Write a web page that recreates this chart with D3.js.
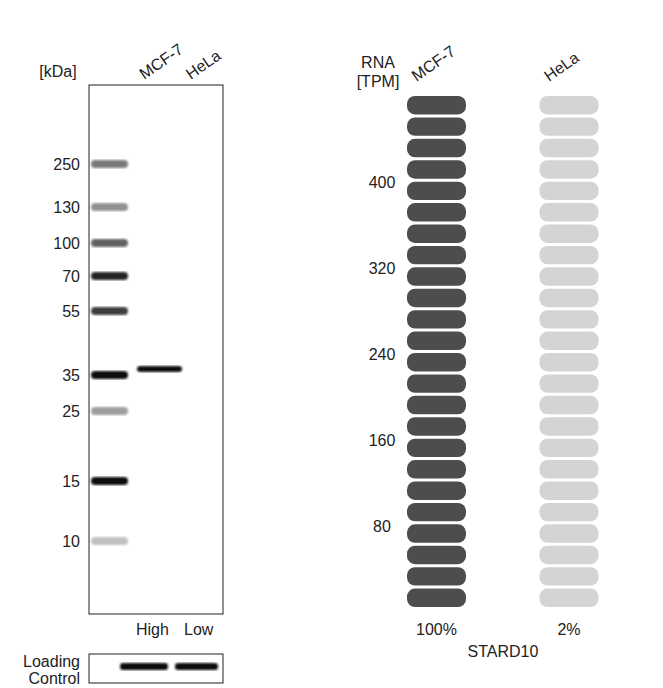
<!DOCTYPE html>
<html><head><meta charset="utf-8">
<script src="https://cdn.jsdelivr.net/npm/d3@7"></script>
<style>body{margin:0;background:#fff}text{font-family:Arial,"Liberation Sans",sans-serif;fill:#222}</style>
</head><body><svg id="c" width="663" height="688"></svg>
<script>
// blot data
var markerKda = [250, 130, 100, 70, 55, 35, 25, 15, 10];
var markerY = [164, 207, 243, 276, 311, 375, 411, 481, 541];
var markerDark = [0.55, 0.45, 0.65, 0.9, 0.8, 1, 0.4, 1, 0.25];
var lanes = ["MCF-7", "HeLa"];
var laneLevel = ["High", "Low"];
var sampleBandKda = [37];
// rna data
var rnaTicks = [80, 160, 240, 320, 400];
var rnaTPM = [480, 9];
var rnaPct = ["100%", "2%"];
var gene = "STARD10";
var tileCount = 24;

var svg = d3.select("#c");
svg.append("defs").append("filter").attr("id", "blur").append("feGaussianBlur").attr("stdDeviation", 1.3);

// ---- blot ----
var bx0 = 89, bx1 = 223, by0 = 85, by1 = 614;
svg.append("rect").attr("x", bx0).attr("y", by0).attr("width", bx1 - bx0).attr("height", by1 - by0)
  .attr("fill", "#fff").attr("stroke", "#222");
var kda = d3.scaleLog().domain(markerKda).range(markerY);
var lane = d3.scaleBand().domain(lanes).range([128, 223]).padding(0.05);

svg.append("text").attr("x", 58).attr("y", 77).attr("text-anchor", "middle").attr("font-size", 16).text("[kDa]");
markerKda.forEach(function (k, i) {
  svg.append("text").attr("x", 80).attr("y", kda(k) + 6).attr("text-anchor", "end").attr("font-size", 16).text(k);
  svg.append("rect").attr("x", 91).attr("y", kda(k) - 4).attr("width", 37).attr("height", 8).attr("rx", 4)
    .attr("fill", "#111").attr("opacity", markerDark[i]).attr("filter", "url(#blur)");
});
sampleBandKda.forEach(function (k) {
  svg.append("rect").attr("x", 137).attr("y", 366).attr("width", 45).attr("height", 6).attr("rx", 3)
    .attr("fill", "#111").attr("filter", "url(#blur)");
});
lanes.forEach(function (l, i) {
  var cx = lane(l) + lane.bandwidth() / 2;
  svg.append("text").attr("transform", "translate(" + (cx - 8) + ",80) rotate(-35)").attr("font-size", 16).text(l);
  svg.append("text").attr("x", cx).attr("y", 635).attr("text-anchor", "middle").attr("font-size", 16).text(laneLevel[i]);
});
// loading control
svg.append("rect").attr("x", bx0).attr("y", 654).attr("width", bx1 - bx0).attr("height", 29).attr("fill", "#fff").attr("stroke", "#222");
[[120, 168], [175, 218]].forEach(function (b) {
  svg.append("rect").attr("x", b[0]).attr("y", 663).attr("width", b[1] - b[0]).attr("height", 7).attr("rx", 3)
    .attr("fill", "#111").attr("filter", "url(#blur)");
});
svg.append("text").attr("x", 80).attr("y", 667).attr("text-anchor", "end").attr("font-size", 16).text("Loading");
svg.append("text").attr("x", 80).attr("y", 684).attr("text-anchor", "end").attr("font-size", 16).text("Control");

// ---- RNA ----
var yT = d3.scaleLinear().domain([0, 480]).range([612, 96]);
var tiles = d3.scaleBand().domain(d3.range(tileCount)).range([607, 96]).paddingInner(0.14);
var col = d3.scalePoint().domain(lanes).range([436.5, 569]);
svg.append("text").attr("x", 378).attr("y", 68).attr("text-anchor", "middle").attr("font-size", 16).text("RNA");
svg.append("text").attr("x", 378).attr("y", 87).attr("text-anchor", "middle").attr("font-size", 16).text("[TPM]");
rnaTicks.forEach(function (t) {
  svg.append("text").attr("x", 382).attr("y", yT(t) + 6).attr("text-anchor", "middle").attr("font-size", 16).text(t);
});
lanes.forEach(function (l, j) {
  var cx = col(l);
  var filled = j === 0 ? tileCount : 0;
  d3.range(tileCount).forEach(function (i) {
    svg.append("rect").attr("x", cx - 29.5).attr("y", tiles(i)).attr("width", 59).attr("height", tiles.bandwidth())
      .attr("rx", 8).attr("fill", i < filled ? "#4d4d4d" : "#d4d4d4");
  });
  svg.append("text").attr("transform", "translate(" + (cx - 20) + ",82) rotate(-35)").attr("font-size", 16).text(l);
  svg.append("text").attr("x", cx).attr("y", 635).attr("text-anchor", "middle").attr("font-size", 16).text(rnaPct[j]);
});
svg.append("text").attr("x", 503).attr("y", 657).attr("text-anchor", "middle").attr("font-size", 16).text(gene);
</script></body></html>
